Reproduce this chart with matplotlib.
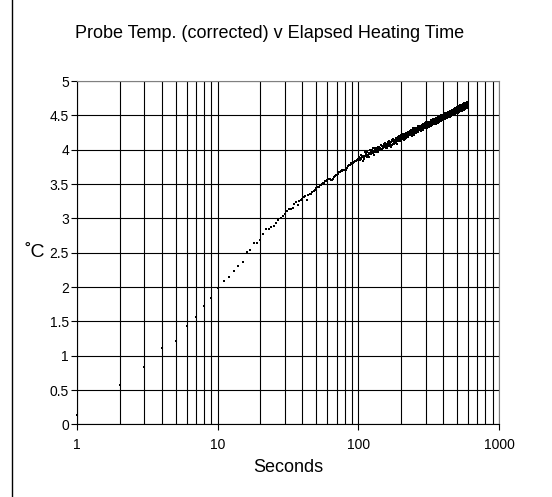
import matplotlib
matplotlib.use("Agg")
import matplotlib.pyplot as plt
from matplotlib.ticker import FixedLocator, FuncFormatter, NullFormatter
from matplotlib.patches import Rectangle
import numpy as np

plt.rcParams['font.family'] = ['Liberation Sans', 'DejaVu Sans']

TITLE = 'Probe Temp. (corrected) v Elapsed Heating Time'

# probe temperature, one reading per second from t = 1 s
temp_early = [0.14, 0.57, 0.83, 1.11, 1.22, 1.44, 1.57, 1.72, 1.84, 1.98,
              2.09, 2.14, 2.23, 2.31, 2.37, 2.51, 2.54, 2.64, 2.64, 2.68,
              2.77, 2.84, 2.85, 2.87, 2.89, 2.93, 2.98, 3.01, 3.04]

# t = 30 .. 100 s
temp_mid = [3.06, 3.11, 3.13, 3.14, 3.15, 3.21, 3.24, 3.19, 3.25, 3.27,
            3.28, 3.31, 3.32, 3.27, 3.34, 3.35, 3.35, 3.38, 3.40, 3.42,
            3.44, 3.45, 3.46, 3.48, 3.49, 3.50, 3.51, 3.52, 3.54, 3.55,
            3.56, 3.57, 3.57, 3.57, 3.56, 3.56, 3.58, 3.60, 3.62, 3.63,
            3.63, 3.65, 3.66, 3.67, 3.68, 3.69, 3.69, 3.70, 3.70, 3.71,
            3.70, 3.71, 3.73, 3.74, 3.76, 3.77, 3.77, 3.78, 3.79, 3.80,
            3.81, 3.81, 3.82, 3.82, 3.83, 3.83, 3.84, 3.85, 3.85, 3.86,
            3.86]

# t = 101 .. 600 s
temp_late = [
    3.89, 3.85, 3.88, 3.92, 3.86, 3.90, 3.84, 3.91, 3.87, 3.88,
    3.91, 3.96, 3.92, 3.94, 3.97, 3.90, 3.93, 3.95, 3.89, 3.94,
    4.00, 3.97, 3.94, 3.99, 3.96, 4.02, 3.95, 3.97, 3.98, 3.93,
    4.00, 4.02, 3.96, 4.03, 4.01, 3.98, 4.04, 3.97, 4.02, 3.99,
    4.04, 4.00, 4.03, 4.07, 4.01, 4.05, 3.99, 4.06, 4.02, 4.03,
    4.04, 4.09, 4.05, 4.07, 4.10, 4.03, 4.06, 4.08, 4.02, 4.07,
    4.11, 4.08, 4.05, 4.10, 4.07, 4.13, 4.06, 4.08, 4.09, 4.04,
    4.11, 4.13, 4.07, 4.14, 4.12, 4.09, 4.15, 4.08, 4.13, 4.10,
    4.14, 4.10, 4.13, 4.17, 4.11, 4.15, 4.09, 4.16, 4.12, 4.13,
    4.14, 4.19, 4.15, 4.17, 4.20, 4.13, 4.16, 4.18, 4.12, 4.17,
    4.21, 4.18, 4.15, 4.20, 4.17, 4.23, 4.16, 4.18, 4.19, 4.14,
    4.20, 4.22, 4.16, 4.23, 4.21, 4.18, 4.24, 4.17, 4.22, 4.19,
    4.23, 4.19, 4.22, 4.26, 4.20, 4.24, 4.18, 4.25, 4.21, 4.22,
    4.22, 4.27, 4.23, 4.25, 4.28, 4.21, 4.24, 4.26, 4.20, 4.25,
    4.29, 4.26, 4.23, 4.28, 4.25, 4.31, 4.24, 4.26, 4.27, 4.22,
    4.28, 4.30, 4.24, 4.31, 4.29, 4.26, 4.32, 4.25, 4.30, 4.27,
    4.31, 4.27, 4.30, 4.34, 4.28, 4.32, 4.26, 4.33, 4.29, 4.30,
    4.29, 4.34, 4.30, 4.32, 4.35, 4.28, 4.31, 4.33, 4.27, 4.32,
    4.36, 4.33, 4.30, 4.35, 4.32, 4.38, 4.31, 4.33, 4.34, 4.29,
    4.35, 4.37, 4.31, 4.38, 4.36, 4.33, 4.39, 4.32, 4.37, 4.34,
    4.37, 4.33, 4.36, 4.40, 4.34, 4.38, 4.32, 4.39, 4.35, 4.36,
    4.35, 4.40, 4.36, 4.38, 4.41, 4.34, 4.37, 4.39, 4.33, 4.38,
    4.41, 4.38, 4.35, 4.40, 4.37, 4.43, 4.36, 4.38, 4.39, 4.34,
    4.40, 4.42, 4.36, 4.43, 4.41, 4.38, 4.44, 4.37, 4.42, 4.39,
    4.42, 4.38, 4.41, 4.45, 4.39, 4.43, 4.37, 4.44, 4.40, 4.41,
    4.40, 4.45, 4.41, 4.43, 4.46, 4.39, 4.42, 4.44, 4.38, 4.43,
    4.46, 4.43, 4.40, 4.45, 4.42, 4.48, 4.41, 4.43, 4.44, 4.39,
    4.45, 4.47, 4.41, 4.48, 4.46, 4.43, 4.49, 4.42, 4.47, 4.44,
    4.47, 4.43, 4.46, 4.50, 4.44, 4.48, 4.42, 4.49, 4.45, 4.46,
    4.45, 4.50, 4.46, 4.48, 4.51, 4.44, 4.47, 4.49, 4.43, 4.48,
    4.51, 4.48, 4.45, 4.50, 4.47, 4.53, 4.46, 4.48, 4.49, 4.44,
    4.49, 4.51, 4.45, 4.52, 4.50, 4.47, 4.53, 4.46, 4.51, 4.48,
    4.51, 4.47, 4.50, 4.54, 4.48, 4.52, 4.46, 4.53, 4.49, 4.50,
    4.49, 4.54, 4.50, 4.52, 4.55, 4.48, 4.51, 4.53, 4.47, 4.52,
    4.55, 4.52, 4.49, 4.54, 4.51, 4.57, 4.50, 4.52, 4.53, 4.48,
    4.53, 4.55, 4.49, 4.56, 4.54, 4.51, 4.57, 4.50, 4.55, 4.52,
    4.55, 4.51, 4.54, 4.58, 4.52, 4.56, 4.50, 4.57, 4.53, 4.54,
    4.53, 4.58, 4.54, 4.56, 4.59, 4.52, 4.55, 4.57, 4.51, 4.56,
    4.59, 4.56, 4.53, 4.58, 4.55, 4.61, 4.54, 4.56, 4.57, 4.52,
    4.57, 4.59, 4.53, 4.60, 4.58, 4.55, 4.61, 4.54, 4.59, 4.56,
    4.59, 4.55, 4.58, 4.62, 4.56, 4.60, 4.54, 4.61, 4.57, 4.58,
    4.57, 4.62, 4.58, 4.60, 4.63, 4.56, 4.59, 4.61, 4.55, 4.60,
    4.63, 4.60, 4.57, 4.62, 4.59, 4.65, 4.58, 4.60, 4.61, 4.56,
    4.60, 4.62, 4.56, 4.63, 4.61, 4.58, 4.64, 4.57, 4.62, 4.59,
    4.62, 4.58, 4.61, 4.65, 4.59, 4.63, 4.57, 4.64, 4.60, 4.61,
    4.60, 4.65, 4.61, 4.63, 4.66, 4.59, 4.62, 4.64, 4.58, 4.63,
    4.66, 4.63, 4.60, 4.65, 4.62, 4.68, 4.61, 4.63, 4.64, 4.59,
    4.63, 4.65, 4.59, 4.66, 4.64, 4.61, 4.67, 4.60, 4.65, 4.62,
    4.65, 4.61, 4.64, 4.68, 4.62, 4.66, 4.60, 4.67, 4.63, 4.64,
    4.63, 4.68, 4.64, 4.66, 4.69, 4.62, 4.65, 4.67, 4.61, 4.66,
]

temps = temp_early + temp_mid + temp_late
seconds = np.arange(1, len(temps) + 1)

x_ticks = [1, 10, 100, 1000]
y_ticks = [0, 0.5, 1, 1.5, 2, 2.5, 3, 3.5, 4, 4.5, 5]

fig = plt.figure(figsize=(5.52, 4.97), dpi=100)
ax = fig.add_axes([0.140, 0.146, 0.764, 0.691])

# outer chart frame (right and bottom edges fall outside the image)
fig.patches.append(Rectangle((12 / 552, -0.05), 1.1, 1.1 - 4 / 497,
                             transform=fig.transFigure, fill=False,
                             edgecolor='black', linewidth=1.0))

ax.plot(seconds, temps, linestyle='none', marker='s', markersize=2.0,
        markeredgewidth=0, color='black', zorder=4, clip_on=False)

ax.set_xscale('log')
ax.set_xlim(1, 1000)
ax.set_ylim(0, 5)

ax.xaxis.set_major_locator(FixedLocator(x_ticks))
ax.xaxis.set_major_formatter(FuncFormatter(lambda v, p: f'{v:g}'))
minor_x = [m * d for d in (1, 10, 100) for m in range(2, 10)]
ax.xaxis.set_minor_locator(FixedLocator(minor_x))
ax.xaxis.set_minor_formatter(NullFormatter())
ax.yaxis.set_major_locator(FixedLocator(y_ticks))
ax.yaxis.set_major_formatter(FuncFormatter(lambda v, p: f'{v:g}'))

ax.grid(True, which='major', color='black', linewidth=0.8)
ax.grid(True, which='minor', axis='x', color='black', linewidth=0.8)

ax.tick_params(axis='both', which='major', labelsize=10, length=4, width=0.8,
               direction='out')
ax.tick_params(axis='y', which='major', pad=2)
ax.tick_params(axis='x', which='major', pad=6)
ax.tick_params(axis='x', which='minor', length=0)
for s in ax.spines.values():
    s.set_color('#808080')
    s.set_linewidth(0.8)
ax.spines['left'].set_color('black')
ax.spines['bottom'].set_color('black')

ax.set_xlabel('Seconds', fontsize=13, labelpad=5)
ax.set_ylabel('˚C', fontsize=14, rotation=0, va='center', ha='center')
ax.yaxis.set_label_coords(-0.10, 0.5)
fig.text(270 / 552, 1 - 33 / 497, TITLE, fontsize=13,
         ha='center', va='center')

fig.savefig('out.png', dpi=100)
